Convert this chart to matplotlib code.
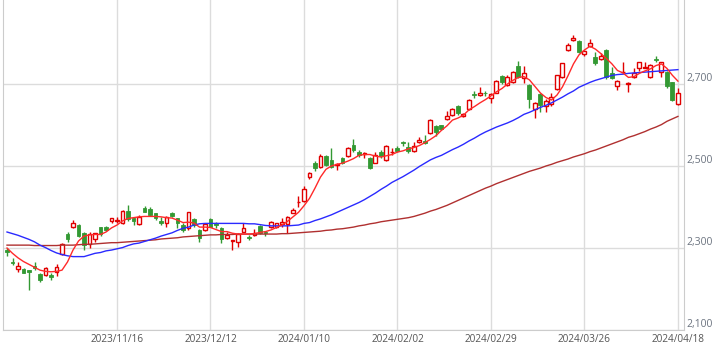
import numpy as np
import matplotlib
matplotlib.use('Agg')
import matplotlib.pyplot as plt

plt.rcParams['font.family'] = ['Open Sans', 'DejaVu Sans']

# ============================================================
# Data: daily OHLC, 2023/10/18 .. 2024/04/18 (123 sessions)
# ============================================================
opens = [2295, 2267, 2248, 2248, 2246, 2256, 2237, 2234, 2234, 2241,
         2285, 2333, 2351, 2356, 2337, 2309, 2321, 2350, 2352, 2367,
         2367, 2360, 2390, 2374, 2358, 2397, 2395, 2385, 2366, 2360,
         2385, 2372, 2356, 2348, 2371, 2344, 2344, 2370, 2360, 2349,
         2324, 2316, 2315, 2340, 2326, 2332, 2354, 2338, 2352, 2352,
         2358, 2358, 2386, 2412, 2415, 2472, 2507, 2498, 2524, 2515,
         2502, 2519, 2525, 2551, 2535, 2530, 2520, 2508, 2535, 2515,
         2534, 2543, 2559, 2547, 2537, 2558, 2562, 2580, 2598, 2600,
         2614, 2624, 2646, 2622, 2638, 2676, 2672, 2678, 2665, 2679,
         2720, 2698, 2706, 2744, 2715, 2698, 2638, 2676, 2646, 2651,
         2687, 2716, 2783, 2807, 2805, 2772, 2793, 2767, 2761, 2783,
         2726, 2696, 2729, 2699, 2718, 2738, 2740, 2718, 2761, 2730,
         2730, 2704, 2651]
highs = [2300, 2275, 2267, 2251, 2247, 2267, 2239, 2254, 2238, 2261,
         2312, 2340, 2368, 2358, 2339, 2340, 2337, 2352, 2354, 2374,
         2376, 2392, 2405, 2376, 2381, 2403, 2401, 2386, 2376, 2379,
         2389, 2374, 2360, 2389, 2372, 2346, 2361, 2372, 2363, 2351,
         2340, 2320, 2336, 2362, 2332, 2346, 2355, 2342, 2367, 2361,
         2372, 2378, 2397, 2427, 2451, 2486, 2511, 2529, 2527, 2543,
         2507, 2521, 2546, 2565, 2539, 2533, 2523, 2535, 2539, 2551,
         2543, 2549, 2561, 2559, 2559, 2571, 2576, 2614, 2600, 2601,
         2634, 2641, 2649, 2630, 2663, 2683, 2692, 2683, 2677, 2710,
         2722, 2722, 2732, 2756, 2744, 2700, 2657, 2677, 2663, 2679,
         2722, 2752, 2799, 2820, 2807, 2783, 2810, 2779, 2775, 2785,
         2742, 2710, 2754, 2704, 2740, 2754, 2754, 2749, 2768, 2754,
         2732, 2706, 2690]
lows = [2281, 2259, 2242, 2238, 2198, 2246, 2218, 2232, 2222, 2232,
        2283, 2315, 2348, 2328, 2295, 2299, 2315, 2329, 2341, 2360,
        2360, 2359, 2366, 2356, 2356, 2387, 2379, 2368, 2356, 2352,
        2376, 2348, 2340, 2344, 2352, 2315, 2341, 2351, 2349, 2311,
        2321, 2295, 2303, 2339, 2320, 2329, 2334, 2330, 2349, 2350,
        2352, 2336, 2385, 2399, 2413, 2468, 2488, 2495, 2500, 2494,
        2490, 2504, 2523, 2535, 2523, 2520, 2493, 2507, 2520, 2513,
        2527, 2533, 2549, 2532, 2535, 2555, 2554, 2578, 2573, 2588,
        2612, 2623, 2624, 2619, 2637, 2667, 2671, 2671, 2654, 2677,
        2700, 2695, 2703, 2715, 2703, 2641, 2616, 2632, 2632, 2646,
        2685, 2715, 2780, 2805, 2775, 2769, 2791, 2746, 2759, 2712,
        2712, 2685, 2728, 2681, 2715, 2732, 2738, 2715, 2753, 2718,
        2690, 2659, 2649]
closes = [2290, 2263, 2256, 2238, 2241, 2250, 2222, 2252, 2230, 2253,
          2309, 2321, 2360, 2330, 2307, 2333, 2336, 2334, 2344, 2372,
          2368, 2390, 2371, 2366, 2376, 2389, 2381, 2374, 2360, 2376,
          2379, 2361, 2344, 2388, 2356, 2324, 2359, 2352, 2355, 2322,
          2332, 2320, 2333, 2348, 2325, 2337, 2336, 2337, 2364, 2360,
          2364, 2376, 2393, 2413, 2443, 2482, 2494, 2525, 2503, 2498,
          2504, 2507, 2543, 2538, 2527, 2531, 2496, 2527, 2524, 2550,
          2535, 2537, 2555, 2537, 2549, 2563, 2555, 2612, 2584, 2590,
          2623, 2638, 2630, 2627, 2661, 2674, 2679, 2677, 2676, 2708,
          2706, 2718, 2730, 2718, 2726, 2663, 2654, 2649, 2659, 2669,
          2721, 2750, 2795, 2813, 2777, 2780, 2801, 2750, 2769, 2718,
          2714, 2707, 2730, 2702, 2726, 2753, 2742, 2746, 2759, 2753,
          2696, 2661, 2677]

# moving averages as shown on the chart (5, 25, 75 day)
ma5 = [2300, 2287, 2276, 2267, 2260, 2253, 2246, 2243, 2242, 2243,
       2246, 2266, 2295, 2317, 2329, 2332, 2333, 2333, 2339, 2349,
       2356, 2366, 2372, 2374, 2376, 2377, 2377, 2377, 2376, 2374,
       2373, 2368, 2362, 2363, 2361, 2351, 2351, 2350, 2345, 2340,
       2340, 2336, 2334, 2334, 2334, 2335, 2338, 2340, 2344, 2350,
       2356, 2365, 2376, 2387, 2403, 2421, 2446, 2473, 2492, 2500,
       2504, 2507, 2512, 2518, 2526, 2528, 2528, 2524, 2522, 2525,
       2528, 2534, 2537, 2542, 2545, 2550, 2557, 2565, 2574, 2587,
       2598, 2612, 2617, 2624, 2637, 2645, 2654, 2662, 2671, 2681,
       2689, 2700, 2709, 2716, 2718, 2710, 2694, 2678, 2667, 2661,
       2673, 2693, 2720, 2749, 2771, 2783, 2792, 2785, 2774, 2762,
       2749, 2733, 2727, 2716, 2718, 2726, 2732, 2737, 2745, 2749,
       2738, 2721, 2707]
ma25 = [2339, 2335, 2331, 2326, 2321, 2315, 2307, 2301, 2294, 2288,
        2284, 2281, 2279, 2279, 2279, 2283, 2287, 2289, 2293, 2295,
        2298, 2301, 2306, 2310, 2312, 2316, 2320, 2324, 2329, 2333,
        2337, 2343, 2348, 2351, 2356, 2359, 2360, 2360, 2360, 2360,
        2360, 2360, 2360, 2360, 2359, 2359, 2357, 2355, 2354, 2354,
        2354, 2354, 2355, 2356, 2360, 2362, 2367, 2371, 2376, 2381,
        2387, 2393, 2399, 2405, 2411, 2418, 2426, 2434, 2443, 2451,
        2460, 2467, 2474, 2482, 2490, 2499, 2507, 2515, 2521, 2526,
        2533, 2540, 2546, 2553, 2561, 2568, 2576, 2583, 2589, 2595,
        2600, 2605, 2611, 2618, 2626, 2631, 2637, 2643, 2648, 2654,
        2661, 2668, 2676, 2683, 2692, 2698, 2704, 2709, 2713, 2717,
        2721, 2723, 2724, 2726, 2727, 2728, 2729, 2730, 2731, 2732,
        2733, 2734, 2735]
ma75 = [2307, 2307, 2307, 2307, 2307, 2306, 2306, 2306, 2306, 2306,
        2307, 2307, 2307, 2308, 2309, 2309, 2310, 2311, 2312, 2313,
        2313, 2314, 2315, 2316, 2317, 2318, 2319, 2320, 2322, 2323,
        2324, 2325, 2327, 2328, 2329, 2330, 2331, 2332, 2332, 2333,
        2333, 2333, 2334, 2334, 2334, 2334, 2334, 2334, 2334, 2334,
        2335, 2335, 2336, 2337, 2338, 2339, 2340, 2341, 2343, 2344,
        2346, 2347, 2349, 2351, 2354, 2356, 2359, 2361, 2364, 2366,
        2368, 2370, 2372, 2374, 2377, 2381, 2385, 2390, 2394, 2399,
        2404, 2410, 2416, 2422, 2428, 2434, 2440, 2446, 2451, 2457,
        2462, 2467, 2472, 2477, 2482, 2487, 2491, 2495, 2500, 2504,
        2509, 2513, 2517, 2522, 2526, 2530, 2535, 2539, 2544, 2549,
        2554, 2559, 2564, 2570, 2574, 2579, 2584, 2590, 2595, 2601,
        2609, 2615, 2621]

tick_idx = [20, 37, 54, 71, 88, 105, 122]
tick_labels = ['2023/11/16', '2023/12/12', '2024/01/10', '2024/02/02',
               '2024/02/29', '2024/03/26', '2024/04/18']
y_ticks = [2100, 2300, 2500, 2700]

RED = '#e00000'
GREEN = '#339933'

# ============================================================
# Plot
# ============================================================
o = np.array(opens, float)
h = np.array(highs, float)
l = np.array(lows, float)
c = np.array(closes, float)
x = np.arange(len(c))

fig = plt.figure(figsize=(7.22, 3.51), dpi=100)
ax = fig.add_axes([3 / 722, 21 / 351, 681 / 722, 330 / 351])

up = c >= o
body_lo = np.minimum(o, c)
body_h = np.maximum(np.abs(c - o), 0.8)
wick_col = np.where(up, RED, GREEN)

ax.vlines(x, l, h, colors=wick_col, lw=1, zorder=2)
ax.bar(x[up], body_h[up], 0.72, bottom=body_lo[up],
       facecolor='white', edgecolor=RED, lw=1, zorder=3)
ax.bar(x[~up], body_h[~up], 0.72, bottom=body_lo[~up],
       facecolor=GREEN, edgecolor=GREEN, lw=0.6, zorder=3)

ax.plot(x, ma75, color='#b03030', lw=1, zorder=4)
ax.plot(x, ma25, color='#2a2aff', lw=1, zorder=4)
ax.plot(x, ma5, color='#ff2a2a', lw=1, zorder=5)

ax.set_xlim(-0.73, 123.1)
ax.set_ylim(2100, 2100 + 330 * 200 / 82)

ax.set_xticks(tick_idx)
ax.set_xticklabels(tick_labels)
ax.yaxis.tick_right()
ax.set_yticks(y_ticks)
ax.set_yticklabels([f'{v:,}' for v in y_ticks])
for lbl in ax.get_yticklabels():
    lbl.set_va('bottom')

ax.tick_params(axis='x', length=0, pad=3, labelsize=7.2, labelcolor='#555555')
ax.tick_params(axis='y', length=0, pad=2, labelsize=7.5, labelcolor='#6c7480')

ax.grid(True, color='#dcdcdc', lw=1)
ax.set_axisbelow(True)
for side in ['left', 'right', 'bottom']:
    ax.spines[side].set_color('#cccccc')
ax.spines['top'].set_visible(False)

fig.savefig('out.png', dpi=100, facecolor='white')
